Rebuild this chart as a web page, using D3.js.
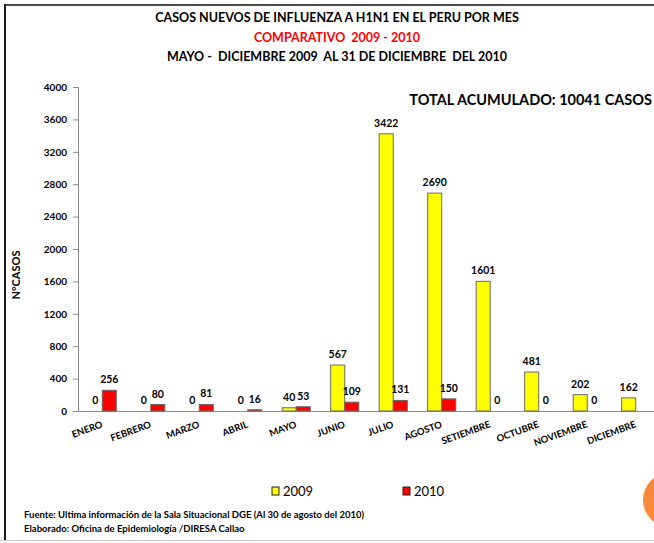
<!DOCTYPE html>
<html>
<head>
<meta charset="utf-8">
<script src="https://cdn.jsdelivr.net/npm/d3@7"></script>
<style>
  body { margin: 0; background: #fff; }
  svg { display: block; font-family: Lato, "Open Sans", sans-serif; }
</style>
</head>
<body>
<div id="chart"></div>
<script>
// months and cases per year
var months = ["ENERO", "FEBRERO", "MARZO", "ABRIL", "MAYO", "JUNIO", "JULIO",
              "AGOSTO", "SETIEMBRE", "OCTUBRE", "NOVIEMBRE", "DICIEMBRE"];
var cases2009 = [0, 0, 0, 0, 40, 567, 3422, 2690, 1601, 481, 202, 162];
var cases2010 = [256, 80, 81, 16, 53, 109, 131, 150, 0, 0, 0, null];
var series = ["2009", "2010"];
var yTicks = [0, 400, 800, 1200, 1600, 2000, 2400, 2800, 3200, 3600, 4000];

var W = 654, H = 543;
var colors = { "2009": "#ffff00", "2010": "#ff0000" };

var svg = d3.select("#chart").append("svg")
    .attr("width", W)
    .attr("height", H);

// slide frame
svg.append("line").attr("x1", 4).attr("x2", W).attr("y1", 5).attr("y2", 5)
    .attr("stroke", "#4a4a4a").attr("stroke-width", 2);
svg.append("line").attr("x1", 5).attr("x2", 5).attr("y1", 4).attr("y2", 540)
    .attr("stroke", "#1a1a1a").attr("stroke-width", 2);
svg.append("line").attr("x1", 0).attr("x2", W).attr("y1", 540.5).attr("y2", 540.5)
    .attr("stroke", "#c8c8c8").attr("stroke-width", 1);
svg.append("circle").attr("cx", 670.5).attr("cy", 500).attr("r", 27.5)
    .attr("fill", "#f98a3a");

// titles
var titles = [
  { t: "CASOS NUEVOS DE INFLUENZA A H1N1 EN EL PERU POR MES", y: 22, c: "#000" },
  { t: "COMPARATIVO  2009 - 2010", y: 42, c: "#ff0000" },
  { t: "MAYO -  DICIEMBRE 2009  AL 31 DE DICIEMBRE  DEL 2010", y: 61, c: "#000" }
];
svg.selectAll(".title").data(titles).enter().append("text")
    .attr("class", "title")
    .attr("x", 337).attr("y", function(d) { return d.y; })
    .attr("text-anchor", "middle")
    .attr("font-size", 12.5).attr("font-weight", "bold")
    .attr("fill", function(d) { return d.c; })
    .style("white-space", "pre")
    .text(function(d) { return d.t; });

svg.append("text")
    .attr("x", 652).attr("y", 105)
    .attr("text-anchor", "end")
    .attr("font-size", 14.5).attr("font-weight", "bold")
    .text("TOTAL ACUMULADO: 10041 CASOS");

// scales
var y = d3.scaleLinear().domain([0, 4000]).range([411, 87]);
var x0 = d3.scaleBand().domain(months).range([78, 660])
    .paddingInner(0.42).paddingOuter(0.21);
var x1 = d3.scaleBand().domain(series).range([0, x0.bandwidth()]);

// y axis
var yAxis = svg.append("g")
    .attr("transform", "translate(78,0)")
    .call(d3.axisLeft(y).tickValues(yTicks).tickFormat(d3.format("d"))
      .tickSize(5).tickPadding(6));
yAxis.selectAll("line, path").attr("stroke", "#8a8a8a");
yAxis.selectAll("text").attr("font-size", 10).attr("font-weight", "bold")
    .attr("fill", "#000").style("font-family", "Lato, sans-serif");

// x axis line
svg.append("line").attr("x1", 73).attr("x2", W).attr("y1", 411.5).attr("y2", 411.5)
    .attr("stroke", "#8a8a8a");

svg.append("text")
    .attr("transform", "translate(20,275) rotate(-90)")
    .attr("text-anchor", "middle")
    .attr("font-size", 11).attr("font-weight", "bold")
    .text("N°CASOS");

// bars
var rows = months.map(function(m, i) {
  return { month: m, values: [
    { s: "2009", v: cases2009[i] },
    { s: "2010", v: cases2010[i] }
  ]};
});

var groups = svg.selectAll(".grp").data(rows).enter().append("g")
    .attr("class", "grp")
    .attr("transform", function(d) { return "translate(" + x0(d.month) + ",0)"; });

var cells = groups.selectAll(".cell")
    .data(function(d) { return d.values.filter(function(v) { return v.v !== null; }); })
    .enter();

cells.filter(function(d) { return d.v > 0; }).append("rect")
    .attr("x", function(d) { return x1(d.s); })
    .attr("y", function(d) { return y(d.v); })
    .attr("width", x1.bandwidth())
    .attr("height", function(d) { return y(0) - y(d.v); })
    .attr("fill", function(d) { return colors[d.s]; })
    .attr("stroke", "#6a6a6a")
    .attr("stroke-width", 1);

cells.append("text")
    .attr("x", function(d) { return x1(d.s) + x1.bandwidth() / 2; })
    .attr("y", function(d) { return y(d.v) - 7; })
    .attr("text-anchor", "middle")
    .attr("font-size", 10.5).attr("font-weight", "bold")
    .text(function(d) { return d.v; });

// month labels
svg.selectAll(".mlab").data(months).enter().append("text")
    .attr("class", "mlab")
    .attr("transform", function(d) {
      return "translate(" + (x0(d) + x0.bandwidth() / 2 + 1) + ",427) rotate(-20)";
    })
    .attr("text-anchor", "end")
    .attr("font-size", 9.5).attr("font-weight", "bold")
    .text(function(d) { return d; });

// legend
var legend = svg.selectAll(".leg").data(series).enter().append("g")
    .attr("class", "leg")
    .attr("transform", function(d, i) { return "translate(" + (272 + i * 131) + ",487)"; });
legend.append("rect").attr("width", 7).attr("height", 8)
    .attr("fill", function(d) { return colors[d]; })
    .attr("stroke", "#222").attr("stroke-width", 1);
legend.append("text").attr("x", 11).attr("y", 9)
    .attr("font-size", 13)
    .text(function(d) { return d; });

// footnotes
svg.append("text").attr("x", 24).attr("y", 518)
    .attr("font-size", 9.5).attr("font-weight", "bold")
    .text("Fuente: Ultima información de la Sala Situacional DGE (Al 30 de agosto del 2010)");
svg.append("text").attr("x", 24).attr("y", 532)
    .attr("font-size", 9.5).attr("font-weight", "bold")
    .text("Elaborado: Oficina de Epidemiología /DIRESA Callao");
</script>
</body>
</html>
